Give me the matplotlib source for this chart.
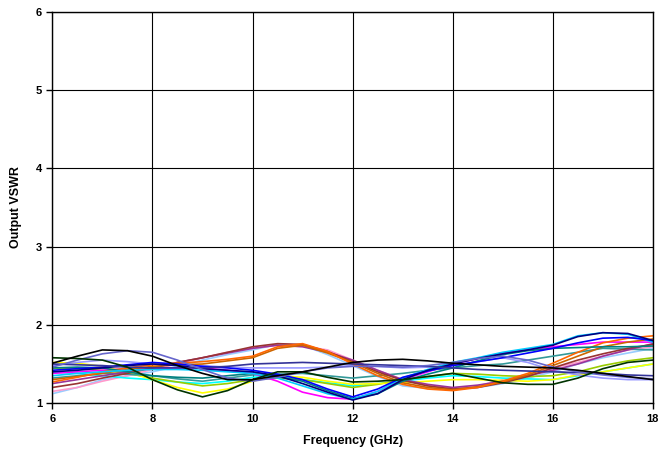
import matplotlib
matplotlib.use("Agg")
import matplotlib.pyplot as plt

plt.rcParams['font.family'] = ['Liberation Sans', 'DejaVu Sans']

freq = [6.0, 6.5, 7.0, 7.5, 8.0, 8.5, 9.0, 9.5, 10.0, 10.5, 11.0, 11.5, 12.0,
        12.5, 13.0, 13.5, 14.0, 14.5, 15.0, 15.5, 16.0, 16.5, 17.0, 17.5, 18.0]

# one trace per unit
black1 = [1.51, 1.60, 1.68, 1.67, 1.60, 1.48, 1.38, 1.30, 1.30, 1.35, 1.40, 1.46, 1.52, 1.55, 1.56, 1.54, 1.51, 1.49, 1.47, 1.46, 1.45, 1.42, 1.38, 1.34, 1.30]
lavender_hi = [1.46, 1.55, 1.63, 1.67, 1.65, 1.55, 1.43, 1.32, 1.28, 1.33, 1.40, 1.45, 1.47, 1.47, 1.46, 1.48, 1.52, 1.57, 1.60, 1.55, 1.46, 1.40, 1.36, 1.33, 1.31]
dkgreen = [1.58, 1.57, 1.55, 1.46, 1.30, 1.17, 1.08, 1.16, 1.30, 1.40, 1.40, 1.33, 1.27, 1.28, 1.30, 1.34, 1.38, 1.32, 1.26, 1.24, 1.24, 1.32, 1.44, 1.52, 1.55]
yellow = [1.52, 1.51, 1.47, 1.40, 1.30, 1.20, 1.13, 1.18, 1.28, 1.35, 1.33, 1.28, 1.24, 1.25, 1.26, 1.28, 1.30, 1.30, 1.29, 1.28, 1.30, 1.36, 1.40, 1.45, 1.50]
lime = [1.45, 1.44, 1.42, 1.38, 1.32, 1.27, 1.22, 1.25, 1.30, 1.32, 1.30, 1.25, 1.20, 1.24, 1.30, 1.34, 1.38, 1.37, 1.35, 1.34, 1.35, 1.40, 1.48, 1.54, 1.58]
maroon = [1.20, 1.25, 1.32, 1.38, 1.45, 1.52, 1.58, 1.65, 1.72, 1.76, 1.75, 1.66, 1.53, 1.40, 1.29, 1.22, 1.18, 1.20, 1.26, 1.34, 1.45, 1.55, 1.63, 1.70, 1.75]
pink = [1.15, 1.20, 1.28, 1.35, 1.43, 1.50, 1.58, 1.65, 1.70, 1.74, 1.73, 1.68, 1.55, 1.42, 1.30, 1.22, 1.19, 1.22, 1.30, 1.37, 1.45, 1.52, 1.60, 1.68, 1.72]
purple = [1.25, 1.30, 1.35, 1.40, 1.45, 1.52, 1.58, 1.64, 1.70, 1.74, 1.72, 1.65, 1.55, 1.42, 1.30, 1.24, 1.20, 1.23, 1.28, 1.35, 1.42, 1.50, 1.60, 1.68, 1.76]
orange = [1.27, 1.33, 1.40, 1.45, 1.49, 1.51, 1.53, 1.56, 1.60, 1.72, 1.76, 1.66, 1.50, 1.35, 1.24, 1.18, 1.16, 1.20, 1.28, 1.38, 1.51, 1.65, 1.77, 1.83, 1.86]
brown = [1.30, 1.34, 1.38, 1.43, 1.47, 1.49, 1.50, 1.54, 1.58, 1.70, 1.74, 1.64, 1.52, 1.38, 1.26, 1.20, 1.17, 1.21, 1.27, 1.36, 1.48, 1.60, 1.72, 1.78, 1.82]
lightblue = [1.12, 1.20, 1.30, 1.35, 1.40, 1.47, 1.55, 1.62, 1.68, 1.75, 1.74, 1.62, 1.48, 1.34, 1.22, 1.19, 1.18, 1.20, 1.25, 1.32, 1.40, 1.50, 1.58, 1.64, 1.70]
navy = [1.40, 1.42, 1.45, 1.48, 1.50, 1.48, 1.44, 1.42, 1.40, 1.35, 1.25, 1.14, 1.04, 1.12, 1.30, 1.42, 1.50, 1.57, 1.63, 1.68, 1.74, 1.85, 1.90, 1.89, 1.80]
cyan = [1.35, 1.38, 1.40, 1.42, 1.43, 1.43, 1.42, 1.40, 1.38, 1.32, 1.22, 1.12, 1.05, 1.15, 1.32, 1.43, 1.52, 1.58, 1.65, 1.70, 1.75, 1.86, 1.90, 1.88, 1.78]
blue = [1.42, 1.44, 1.46, 1.49, 1.52, 1.50, 1.47, 1.45, 1.42, 1.37, 1.30, 1.18, 1.08, 1.18, 1.33, 1.41, 1.48, 1.53, 1.58, 1.64, 1.70, 1.77, 1.83, 1.84, 1.80]
teal = [1.45, 1.46, 1.45, 1.40, 1.35, 1.33, 1.32, 1.35, 1.38, 1.34, 1.28, 1.16, 1.06, 1.12, 1.28, 1.37, 1.45, 1.54, 1.62, 1.67, 1.70, 1.71, 1.72, 1.72, 1.73]
magenta = [1.38, 1.40, 1.42, 1.44, 1.45, 1.45, 1.45, 1.42, 1.38, 1.28, 1.14, 1.07, 1.05, 1.15, 1.30, 1.40, 1.50, 1.57, 1.64, 1.68, 1.72, 1.75, 1.78, 1.78, 1.78]
aqua = [1.40, 1.38, 1.35, 1.32, 1.30, 1.27, 1.25, 1.28, 1.33, 1.35, 1.30, 1.26, 1.22, 1.25, 1.28, 1.32, 1.35, 1.34, 1.32, 1.31, 1.30, 1.35, 1.40, 1.45, 1.50]
lavender = [1.48, 1.52, 1.55, 1.53, 1.50, 1.49, 1.48, 1.46, 1.45, 1.45, 1.45, 1.46, 1.48, 1.47, 1.45, 1.46, 1.48, 1.53, 1.58, 1.52, 1.42, 1.36, 1.32, 1.30, 1.30]
seagreen = [1.32, 1.35, 1.38, 1.37, 1.35, 1.31, 1.28, 1.32, 1.36, 1.37, 1.38, 1.35, 1.32, 1.35, 1.38, 1.42, 1.45, 1.48, 1.50, 1.55, 1.60, 1.65, 1.70, 1.69, 1.68]
indigo = [1.50, 1.49, 1.48, 1.46, 1.45, 1.45, 1.45, 1.47, 1.50, 1.51, 1.52, 1.51, 1.50, 1.49, 1.48, 1.47, 1.45, 1.43, 1.42, 1.41, 1.40, 1.39, 1.38, 1.36, 1.35]

traces = [
    (lightblue, '#99CCFF'), (pink, '#FF99CC'), (aqua, '#00FFFF'), (lime, '#99CC00'),
    (yellow, '#FFFF00'), (seagreen, '#339999'), (lavender, '#9999FF'), (magenta, '#FF00FF'),
    (purple, '#993399'), (maroon, '#993333'), (brown, '#CC6600'), (orange, '#FF6600'),
    (teal, '#008080'), (cyan, '#00CCFF'), (blue, '#0000FF'), (navy, '#000080'),
    (indigo, '#333399'), (lavender_hi, '#6666CC'), (dkgreen, '#003300'), (black1, '#000000'),
]

fig = plt.figure(figsize=(6.71, 4.55), dpi=100)
ax = fig.add_axes([0.078, 0.114, 0.895, 0.86])

for vals, col in traces:
    ax.plot(freq, vals, color=col, linewidth=1.2)

ax.set_xlim(6, 18)
ax.set_ylim(1, 6)
ax.set_xticks([6, 8, 10, 12, 14, 16, 18])
ax.set_yticks([1, 2, 3, 4, 5, 6])
ax.grid(True, color='black', linewidth=0.8)
ax.set_axisbelow(True)
for s in ax.spines.values():
    s.set_linewidth(1.0)
ax.tick_params(direction='out', length=4, width=1, labelsize=8)
for lab in ax.get_xticklabels() + ax.get_yticklabels():
    lab.set_fontweight('bold')

ax.set_xlabel('Frequency (GHz)', fontsize=9, fontweight='bold', labelpad=8)
ax.set_ylabel('Output VSWR', fontsize=9, fontweight='bold', labelpad=10)

fig.savefig('out.png', dpi=100)
